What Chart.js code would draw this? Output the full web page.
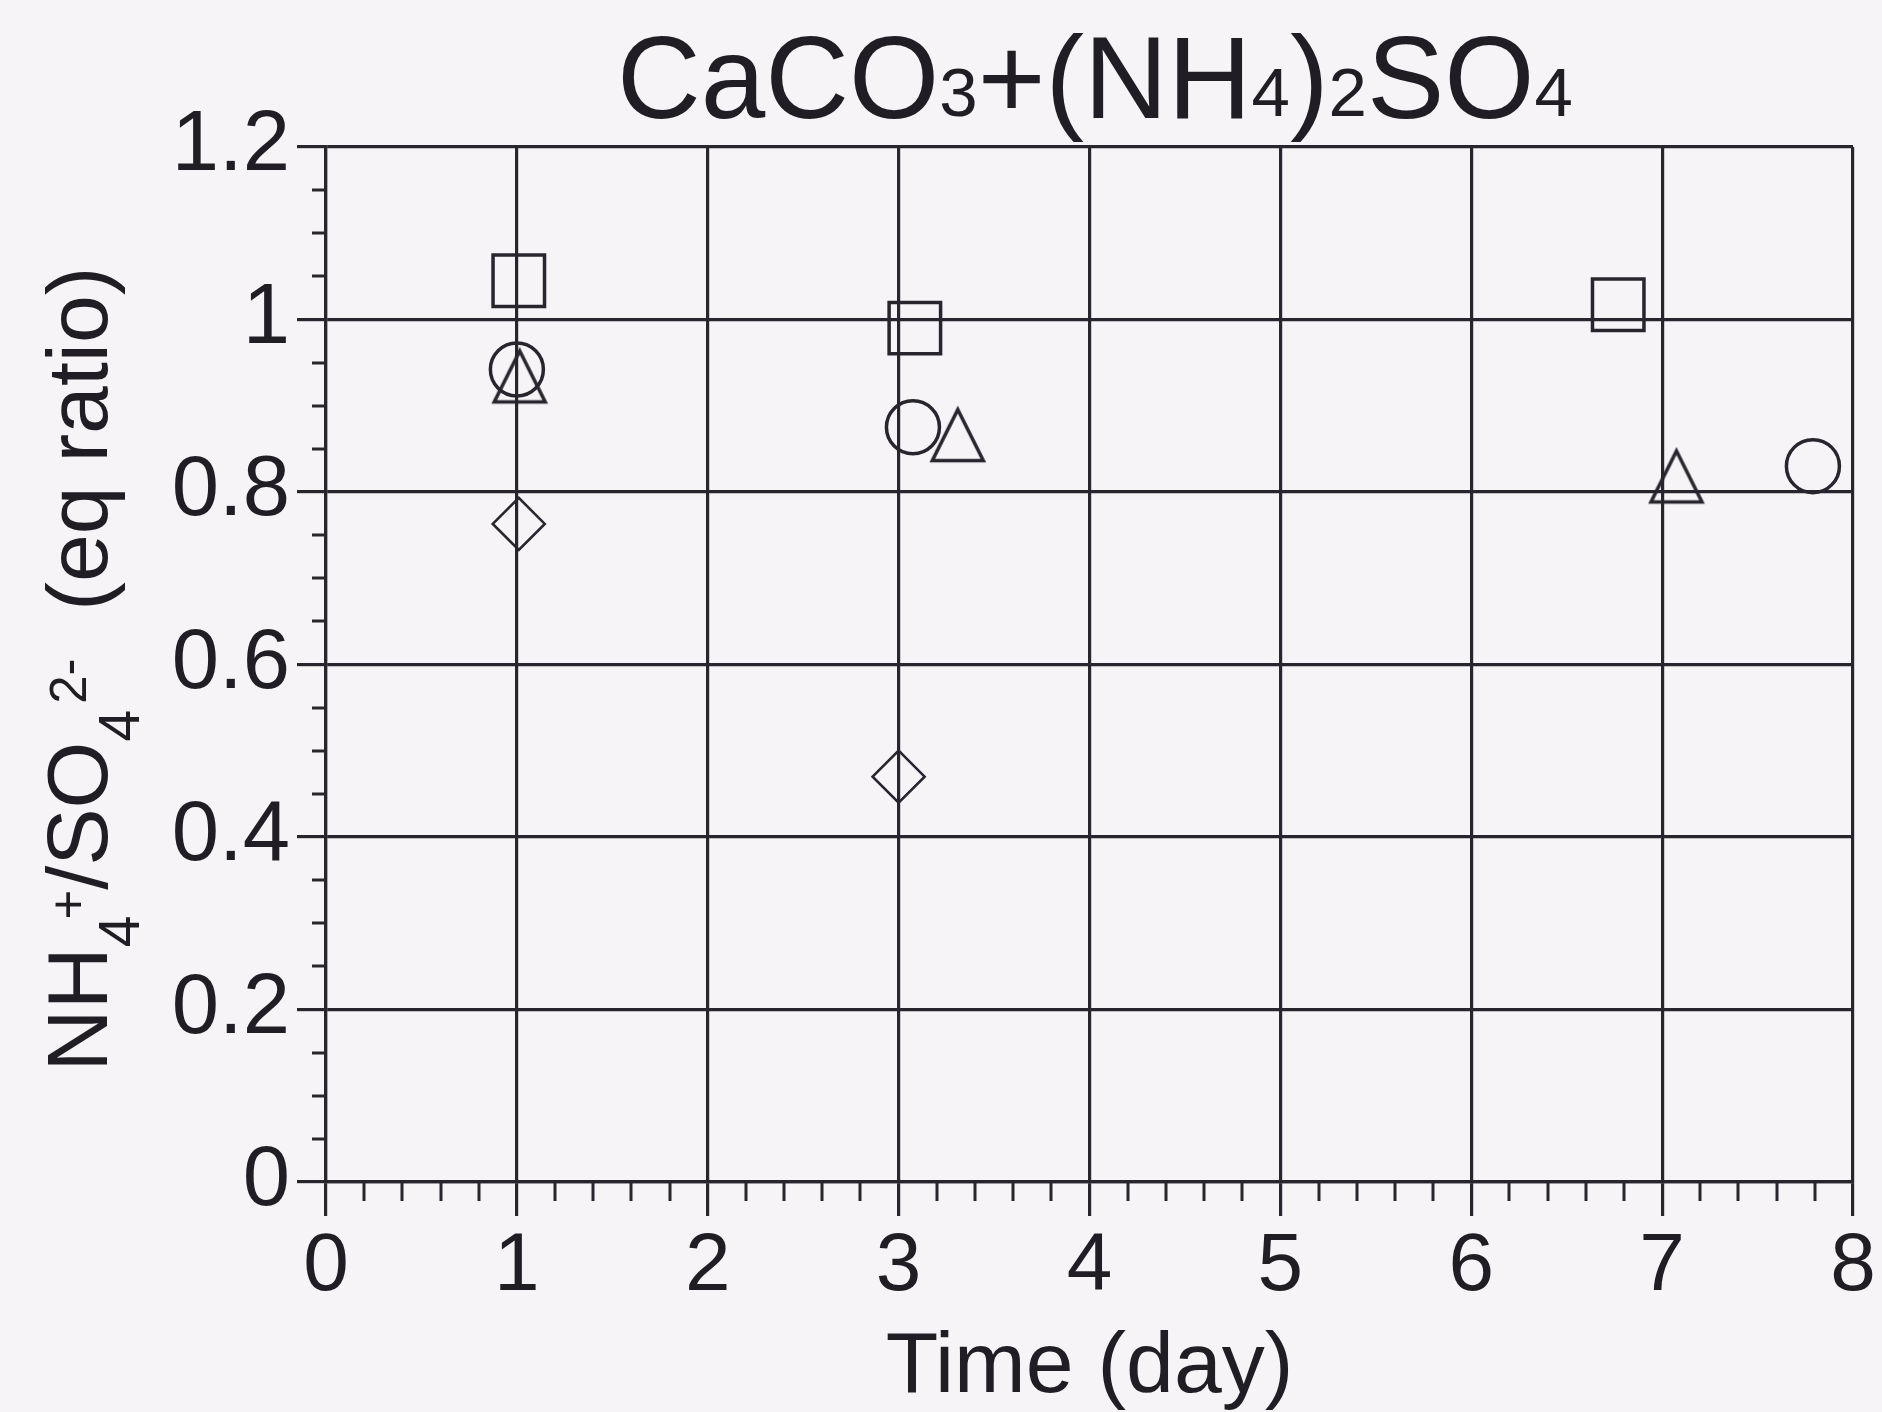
<!DOCTYPE html>
<html lang="en">
<head>
  <meta charset="UTF-8" />
  <title>CaCO3+(NH4)2SO4</title>
  <script src="https://cdn.jsdelivr.net/npm/chart.js"></script>
  <style>
    html, body { margin: 0; padding: 0; background: #f6f4f6; }
    canvas { display: block; }
  </style>
</head>
<body>
  <canvas id="ratioChart" width="1882" height="1412"></canvas>

  <script>
    // NH4+/SO4 2- equivalent ratio against time, one pair of arrays per marker set
    const squareDays = [1.01, 3.085, 6.77];
    const squareRatio = [1.045, 0.99, 1.017];
    const circleDays = [1.0, 3.075, 7.79];
    const circleRatio = [0.942, 0.875, 0.83];
    const triangleDays = [1.015, 3.31, 7.075];
    const triangleRatio = [0.934, 0.866, 0.818];
    const diamondDays = [1.01, 3.0];
    const diamondRatio = [0.763, 0.47];

    const xTicks = [0, 1, 2, 3, 4, 5, 6, 7, 8];
    const xTickLabels = ['0', '1', '2', '3', '4', '5', '6', '7', '8'];
    const yTicks = [0, 0.2, 0.4, 0.6, 0.8, 1, 1.2];
    const yTickLabels = ['0', '0.2', '0.4', '0.6', '0.8', '1', '1.2'];

    const ink = '#29252e';
    const textInk = '#211d24';
    const family = "'Liberation Sans', Arial, Helvetica, sans-serif";

    function points(xs, ys) {
      return xs.map((x, i) => ({ x: x, y: ys[i] }));
    }

    // hollow triangle, centred on its bounding box
    function triangleMark() {
      const c = document.createElement('canvas');
      c.width = 70;
      c.height = 70;
      const g = c.getContext('2d');
      g.strokeStyle = ink;
      g.lineWidth = 3.5;
      g.lineJoin = 'miter';
      g.beginPath();
      g.moveTo(35, 9.5);
      g.lineTo(60.5, 60.5);
      g.lineTo(9.5, 60.5);
      g.closePath();
      g.stroke();
      return c;
    }

    // text made of pieces: [text, size, rise, back] - rise lifts the piece, back pulls it left
    function drawPieces(ctx, pieces, cx, baseline) {
      let pen = 0;
      const placed = [];
      pieces.forEach(p => {
        ctx.font = p[1] + 'px ' + family;
        pen -= (p[3] || 0);
        placed.push({ text: p[0], font: ctx.font, x: pen, dy: -(p[2] || 0) });
        pen += ctx.measureText(p[0]).width;
      });
      const start = cx - pen / 2;
      placed.forEach(p => {
        ctx.font = p.font;
        ctx.fillText(p.text, start + p.x, baseline + p.dy);
      });
    }

    const extras = {
      id: 'extras',
      afterDraw(chart) {
        const ctx = chart.ctx;
        const x = chart.scales.x;
        const y = chart.scales.y;

        // minor ticks: 0.2 day on x, 0.05 on y
        ctx.save();
        ctx.strokeStyle = ink;
        ctx.lineWidth = 3;
        ctx.beginPath();
        for (let i = 1; i < 40; i++) {
          if (i % 5 === 0) continue;
          const px = Math.round(x.getPixelForValue(i * 0.2));
          ctx.moveTo(px, x.top);
          ctx.lineTo(px, x.top + 19);
        }
        for (let i = 1; i < 24; i++) {
          if (i % 4 === 0) continue;
          const py = Math.round(y.getPixelForValue(i * 0.05));
          ctx.moveTo(y.right, py);
          ctx.lineTo(y.right - 14, py);
        }
        ctx.stroke();
        ctx.restore();

        // titles with sub- and superscripts
        ctx.save();
        ctx.fillStyle = textInk;
        ctx.textBaseline = 'alphabetic';
        drawPieces(ctx, [
          ['CaCO', 116], ['3', 69, 2], ['+(NH', 116], ['4', 69, 2],
          [')', 116], ['2', 69, 2], ['SO', 116], ['4', 69, 2]
        ], 1095, 118);

        drawPieces(ctx, [['Time (day)', 86]], (chart.chartArea.left + chart.chartArea.right) / 2, 1392);

        ctx.translate(107, 669);
        ctx.rotate(-Math.PI / 2);
        drawPieces(ctx, [
          ['NH', 86], ['4', 57, -32], ['+', 51, 21, 4],
          ['/SO', 86], ['4', 57, -32], ['2-', 51, 21, -6],
          ['  (eq ratio)', 86]
        ], 0, 0);
        ctx.restore();
      }
    };

    const gridStyle = (tickLength) => ({
      color: ink,
      lineWidth: 3.2,
      tickColor: ink,
      tickWidth: 3.2,
      tickLength: tickLength,
      drawTicks: true
    });

    new Chart(document.getElementById('ratioChart'), {
      type: 'scatter',
      data: {
        datasets: [
          {
            label: 'Square',
            data: points(squareDays, squareRatio),
            pointStyle: 'rect',
            pointRadius: 36.4,
            pointBorderWidth: 3.5,
            pointBorderColor: ink,
            pointBackgroundColor: 'rgba(0,0,0,0)',
            clip: false
          },
          {
            label: 'Circle',
            data: points(circleDays, circleRatio),
            pointStyle: 'circle',
            pointRadius: 26.5,
            pointBorderWidth: 3.5,
            pointBorderColor: ink,
            pointBackgroundColor: 'rgba(0,0,0,0)',
            clip: false
          },
          {
            label: 'Triangle',
            data: points(triangleDays, triangleRatio),
            pointStyle: triangleMark(),
            pointRadius: 27,
            clip: false
          },
          {
            label: 'Diamond',
            data: points(diamondDays, diamondRatio),
            pointStyle: 'rectRot',
            pointRadius: 26,
            pointBorderWidth: 2.6,
            pointBorderColor: ink,
            pointBackgroundColor: 'rgba(0,0,0,0)',
            clip: false
          }
        ]
      },
      options: {
        responsive: false,
        animation: false,
        devicePixelRatio: 1,
        events: [],
        layout: {
          autoPadding: false,
          padding: { top: 147, right: 29, left: 0, bottom: 0 }
        },
        plugins: {
          legend: { display: false },
          tooltip: { enabled: false },
          title: { display: false }
        },
        scales: {
          x: {
            type: 'linear',
            position: 'bottom',
            min: 0,
            max: 8,
            afterBuildTicks: s => { s.ticks = xTicks.map(v => ({ value: v })); },
            afterFit: s => {
              s.height = 230;
              s.paddingLeft = 0;
              s.paddingRight = 0;
            },
            grid: gridStyle(34),
            border: { display: true, color: ink, width: 3.2 },
            ticks: {
              color: textInk,
              font: { family: family, size: 82 },
              padding: 2,
              maxRotation: 0,
              autoSkip: false,
              callback: (v, i) => xTickLabels[i]
            }
          },
          y: {
            type: 'linear',
            position: 'left',
            min: 0,
            max: 1.2,
            afterBuildTicks: s => { s.ticks = yTicks.map(v => ({ value: v })); },
            afterFit: s => {
              s.width = 326;
              s.paddingTop = 0;
              s.paddingBottom = 0;
            },
            grid: gridStyle(29),
            border: { display: true, color: ink, width: 3.2 },
            ticks: {
              color: textInk,
              font: { family: family, size: 85 },
              padding: 7,
              autoSkip: false,
              callback: (v, i) => yTickLabels[i]
            }
          }
        }
      },
      plugins: [extras]
    });
  </script>
</body>
</html>
